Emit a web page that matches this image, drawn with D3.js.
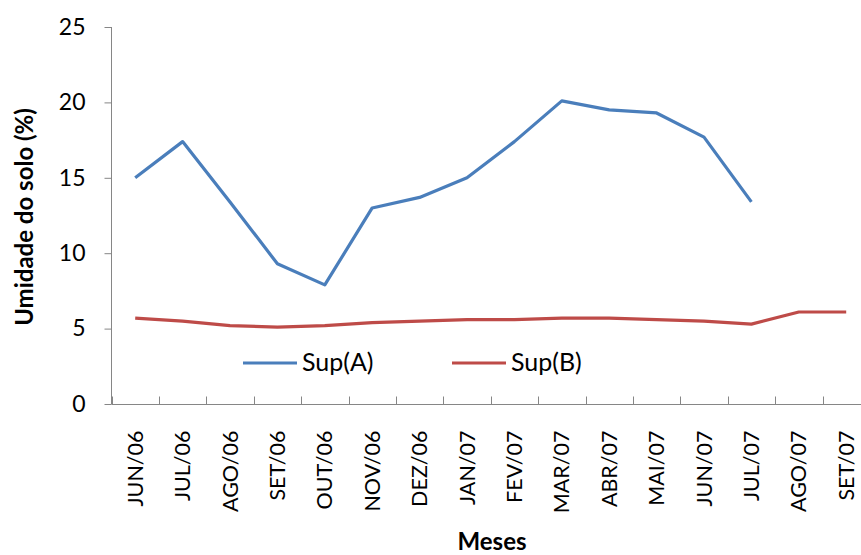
<!DOCTYPE html>
<html>
<head>
<meta charset="utf-8">
<script src="https://cdn.jsdelivr.net/npm/d3@7"></script>
<style>
  html, body { margin: 0; padding: 0; background: #fff; }
  svg { display: block; font-family: Lato, "Open Sans", sans-serif; }
</style>
</head>
<body>
<svg id="chart" width="861" height="555"></svg>
<script>
// Monthly soil moisture (%) for two surface layers
const months = ["JUN/06", "JUL/06", "AGO/06", "SET/06", "OUT/06", "NOV/06", "DEZ/06", "JAN/07",
                "FEV/07", "MAR/07", "ABR/07", "MAI/07", "JUN/07", "JUL/07", "AGO/07", "SET/07"];
const supA = [15.0, 17.4, 13.4, 9.3, 7.9, 13.0, 13.7, 15.0, 17.4, 20.1, 19.5, 19.3, 17.7, 13.4, null, null];
const supB = [5.7, 5.5, 5.2, 5.1, 5.2, 5.4, 5.5, 5.6, 5.6, 5.7, 5.7, 5.6, 5.5, 5.3, 6.1, 6.1];
const yTicks = [0, 5, 10, 15, 20, 25];
const seriesNames = ["Sup(A)", "Sup(B)"];
const colors = ["#4a7ebb", "#be4b48"];

const svg = d3.select("#chart");
const axisColor = "#868686";

const x = d3.scaleBand().domain(months).range([111.5, 111.5 + 16 * 47.4]);
const y = d3.scaleLinear().domain([0, 25]).range([404, 27]);

// Y axis
const yAxis = svg.append("g").attr("transform", "translate(111.5,0)")
  .call(d3.axisLeft(y).tickValues(yTicks).tickSize(7).tickPadding(19).tickFormat(d3.format("d")));
yAxis.select(".domain").attr("stroke", axisColor).attr("d", `M0,${y(0)}V${y(25)}`);
yAxis.selectAll(".tick line").attr("stroke", axisColor);
yAxis.selectAll(".tick text").attr("fill", "#000").attr("font-size", 23).attr("font-family", "Lato");

// X axis: ticks on category boundaries, labels at band centres
const xg = svg.append("g").attr("transform", `translate(0,${y(0) + 0.5})`);
xg.append("line").attr("x1", 111.5).attr("x2", 861).attr("stroke", axisColor);
const bounds = months.map((m) => x(m)).concat([x(months[months.length - 1]) + x.bandwidth()]);
xg.selectAll("line.tk").data(bounds).join("line").attr("class", "tk")
  .attr("x1", (d) => Math.round(d) + 0.5).attr("x2", (d) => Math.round(d) + 0.5)
  .attr("y1", -8).attr("y2", 0).attr("stroke", axisColor);
xg.selectAll("text").data(months).join("text")
  .attr("transform", (d) => `translate(${x(d) + x.bandwidth() / 2 + 7.5},26) rotate(-90)`)
  .attr("text-anchor", "end")
  .attr("font-size", 21.5)
  .attr("fill", "#000")
  .text((d) => d);

// Axis titles
svg.append("text")
  .attr("transform", "translate(33,217) rotate(-90)")
  .attr("text-anchor", "middle")
  .attr("font-weight", "bold").attr("font-size", 24)
  .text("Umidade do solo (%)");
svg.append("text")
  .attr("x", 492).attr("y", 550)
  .attr("text-anchor", "middle")
  .attr("font-weight", "bold").attr("font-size", 24)
  .text("Meses");

// Series lines
const line = d3.line()
  .defined((d) => d != null)
  .x((d, i) => x(months[i]) + x.bandwidth() / 2)
  .y((d) => y(d));
[supA, supB].forEach((vals, k) => {
  svg.append("path").datum(vals)
    .attr("d", line)
    .attr("fill", "none")
    .attr("stroke", colors[k])
    .attr("stroke-width", 3.2)
    .attr("stroke-linejoin", "round");
});

// Legend
const legendX = [243, 452];
seriesNames.forEach((name, k) => {
  const g = svg.append("g").attr("transform", `translate(${legendX[k]},363)`);
  g.append("line").attr("x1", 0).attr("x2", 54).attr("stroke", colors[k]).attr("stroke-width", 3.2);
  g.append("text").attr("x", 59).attr("y", 8).attr("font-size", 25).attr("fill", "#000").text(name);
});
</script>
</body>
</html>
